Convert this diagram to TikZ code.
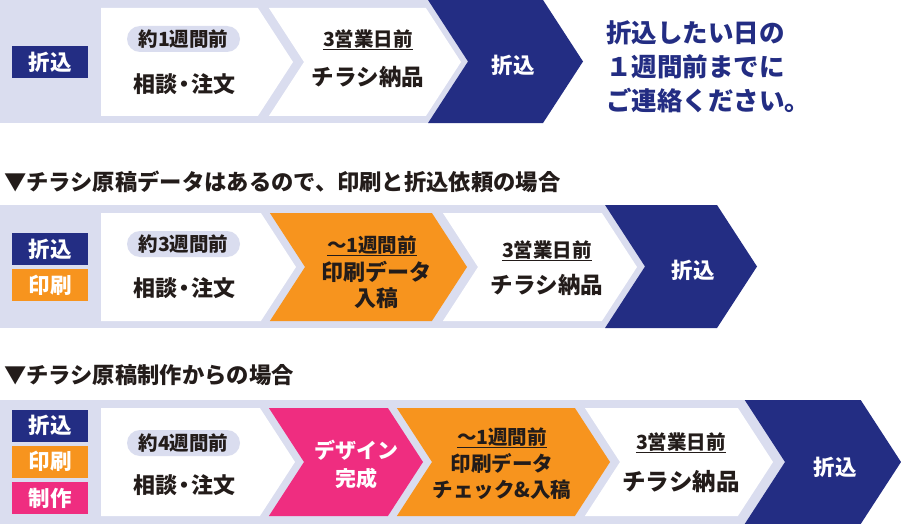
\documentclass[tikz,border=0pt]{standalone}
\usepackage{fontspec}
\setmainfont{Noto Sans CJK JP}
\definecolor{lav}{RGB}{218,221,239}
\definecolor{navy}{RGB}{35,45,131}
\definecolor{orng}{RGB}{247,148,30}
\definecolor{pnk}{RGB}{239,45,128}
\definecolor{ink}{RGB}{35,28,26}
% chevron with flat left side: color, left x, tip x, top y, bottom y
\newcommand\chvflat[5]{%
  \pgfmathsetmacro\chvmid{(#4+#5)/2}%
  \pgfmathsetmacro\chvd{0.65*(#5-#4)/2}%
  \fill[#1] (#2,#4) -- ({#3-\chvd},#4) -- (#3,\chvmid) -- ({#3-\chvd},#5) -- (#2,#5) -- cycle;}
% chevron with notched left side: color, notch x, tip x, top y, bottom y
\newcommand\chvnotch[5]{%
  \pgfmathsetmacro\chvmid{(#4+#5)/2}%
  \pgfmathsetmacro\chvd{0.65*(#5-#4)/2}%
  \fill[#1] ({#2-\chvd},#4) -- ({#3-\chvd},#4) -- (#3,\chvmid) -- ({#3-\chvd},#5) -- ({#2-\chvd},#5) -- (#2,\chvmid) -- cycle;}
\newcommand\soudan{相談\kern-4pt・\kern-4pt注文}
\tikzset{
  tag/.style={font=\bfseries\fontsize{21.5}{21.5}\selectfont, text=white, inner sep=0pt,
    minimum width=76pt, minimum height=32pt},
  pill/.style={fill=lav, rounded corners=13pt, minimum width=113pt, minimum height=26pt,
    inner sep=0pt, font=\bfseries\fontsize{19.5}{19.5}\selectfont, text=ink},
  main/.style={font=\bfseries\fontsize{20.5}{26}\selectfont, text=ink, align=center, inner sep=0pt},
  consult/.style={font=\bfseries\fontsize{22}{26}\selectfont, text=ink, inner sep=0pt},
  sub/.style={font=\bfseries\fontsize{19.5}{19.5}\selectfont, text=ink, inner sep=0pt},
  whitetxt/.style={font=\bfseries\fontsize{21}{28}\selectfont, text=white, align=center, inner sep=0pt},
  head/.style={font=\bfseries\fontsize{22.3}{22.3}\selectfont, text=ink, anchor=west, inner sep=0pt},
  uline/.style={draw=ink, line width=1.3pt},
}
\begin{document}
\begin{tikzpicture}[x=1pt,y=-1pt]
\useasboundingbox (0,0) rectangle (901,524);
\fill[white] (0,0) rectangle (901,524);

% ---------------- Row 1 ----------------
\fill[lav] (0,0) rectangle (470,123);
\chvflat{white}{101}{293}{8}{116}
\chvnotch{white}{304}{461}{8}{116}
\chvnotch{navy}{468}{583}{0}{123}
\node[tag, fill=navy] (a1) at (50,62) {折込};
\node[pill] (p1) at (183.5,39) {約1週間前};
\node[consult] (m1) at (184,84) {\soudan};
\node[sub] (d1) at (368,39) {3営業日前};
\draw[uline] ([yshift=-1pt]d1.south west) -- ([yshift=-1pt]d1.south east);
\node[main, font=\bfseries\fontsize{22.5}{28}\selectfont] (c1) at (368,77) {チラシ納品};
\node[whitetxt, font=\bfseries\fontsize{21.5}{28}\selectfont] (f1) at (513,65) {折込};
\node[anchor=west, align=left, inner sep=0pt, text=navy,
  font=\bfseries\fontsize{25.5}{34}\selectfont] (note) at (606,67)
  {折込したい日の\\１週間前までに\\ご連絡ください。};

% ---------------- Row 2 ----------------
\node[head] (h2) at (4,182) {▼チラシ原稿データはあるので、印刷と折込依頼の場合};
\fill[lav] (0,205) rectangle (650,328);
\chvflat{white}{101}{296}{213}{321}
\chvnotch{orng}{305}{467}{213}{321}
\chvnotch{white}{478}{637}{213}{321}
\chvnotch{navy}{645}{757}{205}{328}
\node[tag, fill=navy] (a2) at (50,249) {折込};
\node[tag, fill=orng] (b2) at (50,285) {印刷};
\node[pill] (p2) at (183.5,244) {約3週間前};
\node[consult] (m2) at (184,288) {\soudan};
\node[sub] (w2) at (372,245) {～1週間前};
\draw[uline] ([yshift=-1pt]w2.south west) -- ([yshift=-1pt]w2.south east);
\node[main, font=\bfseries\fontsize{22}{26}\selectfont] (o2) at (376,285) {印刷データ\\入稿};
\node[sub] (d2) at (547,250) {3営業日前};
\draw[uline] ([yshift=-1pt]d2.south west) -- ([yshift=-1pt]d2.south east);
\node[main, font=\bfseries\fontsize{22.5}{28}\selectfont] (c2) at (547,285) {チラシ納品};
\node[whitetxt, font=\bfseries\fontsize{21.5}{28}\selectfont] (f2) at (693,270) {折込};

% ---------------- Row 3 ----------------
\node[head] (h3) at (4,375) {▼チラシ原稿制作からの場合};
\fill[lav] (0,400) rectangle (790,524);
\chvflat{white}{101}{295}{408}{516}
\chvnotch{pnk}{304}{423}{408}{516}
\chvnotch{orng}{432}{610}{408}{516}
\chvnotch{white}{620}{773}{408}{516}
\chvnotch{navy}{785}{901}{400}{524}
\node[tag, fill=navy] (a3) at (50,425.5) {折込};
\node[tag, fill=orng] (b3) at (50,461.5) {印刷};
\node[tag, fill=pnk] (c3) at (50,498) {制作};
\node[pill] (p3) at (183.5,443) {約4週間前};
\node[consult] (m3) at (184,485) {\soudan};
\node[whitetxt] (g3) at (356,464) {デザイン\\完成};
\node[sub] (w3) at (502,437) {～1週間前};
\draw[uline] ([yshift=-1pt]w3.south west) -- ([yshift=-1pt]w3.south east);
\node[main] (o3) at (502,476.5) {印刷データ\\チェック\&入稿};
\node[sub] (d3) at (681,442) {3営業日前};
\draw[uline] ([yshift=-1pt]d3.south west) -- ([yshift=-1pt]d3.south east);
\node[main, font=\bfseries\fontsize{23.5}{28}\selectfont] (k3) at (681,482) {チラシ納品};
\node[whitetxt, font=\bfseries\fontsize{21.5}{28}\selectfont] (f3) at (835,467) {折込};
\end{tikzpicture}
\end{document}
